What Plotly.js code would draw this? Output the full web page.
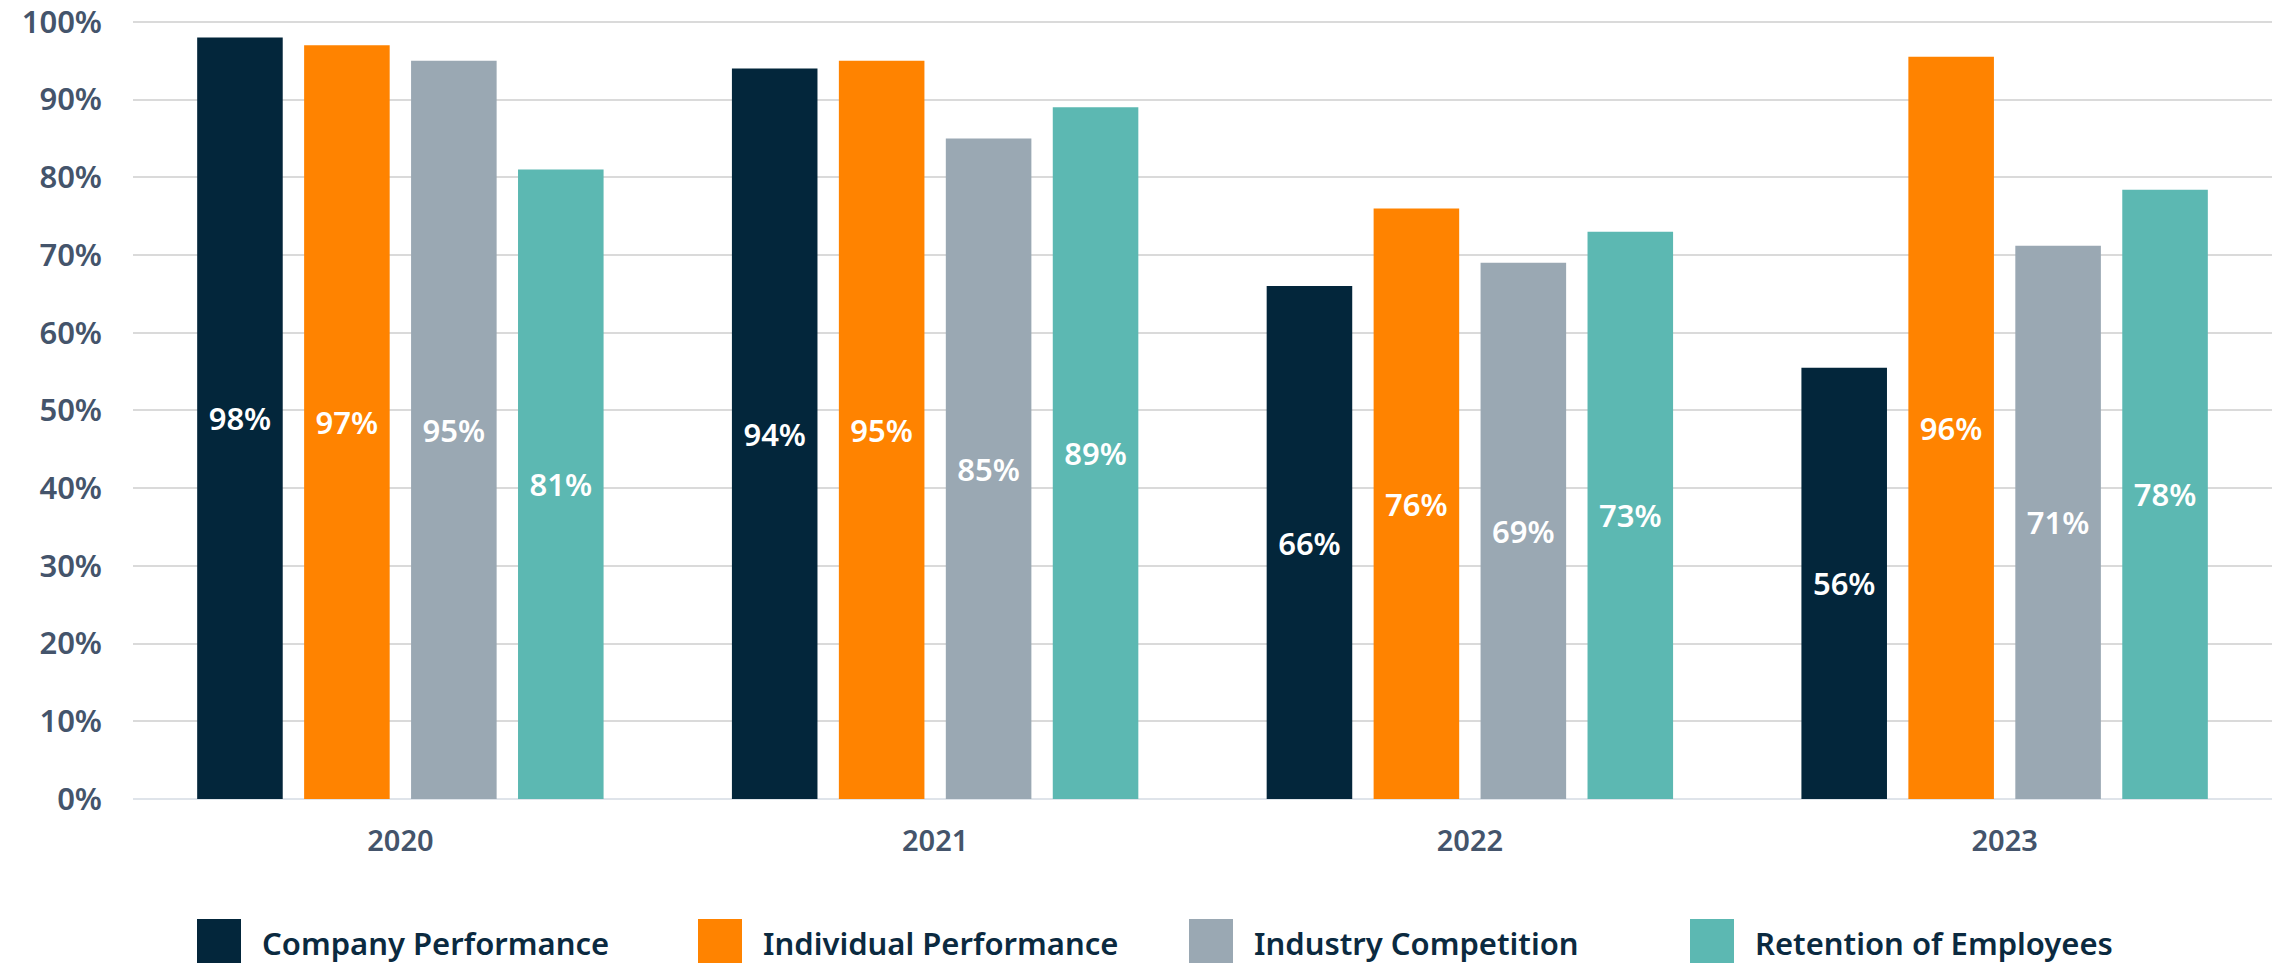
<!DOCTYPE html>
<html>
<head>
<meta charset="utf-8">
<script src="https://cdn.plot.ly/plotly-3.0.1.min.js"></script>
<style>
  html, body { margin: 0; padding: 0; background: #ffffff; }
  #chart { width: 2277px; height: 963px; }
</style>
</head>
<body>
<div id="chart"></div>
<script>
// ---- data ----
const years = ['2020', '2021', '2022', '2023'];
const seriesNames = ['Company Performance', 'Individual Performance', 'Industry Competition', 'Retention of Employees'];
const companyPerformance = [98, 94, 66, 55.5];
const individualPerformance = [97, 95, 76, 95.5];
const industryCompetition = [95, 85, 69, 71.2];
const retentionOfEmployees = [81, 89, 73, 78.4];
const companyLabels = ['98%', '94%', '66%', '56%'];
const individualLabels = ['97%', '95%', '76%', '96%'];
const industryLabels = ['95%', '85%', '69%', '71%'];
const retentionLabels = ['81%', '89%', '73%', '78%'];
const yTickVals = [0, 10, 20, 30, 40, 50, 60, 70, 80, 90, 100];
const yTickText = ['0%', '10%', '20%', '30%', '40%', '50%', '60%', '70%', '80%', '90%', '100%'];

// ---- styling ----
const colors = ['#03263b', '#ff8300', '#9aa8b3', '#5cb8b2'];
const FONT = '"Noto Sans", "DejaVu Sans", sans-serif';
const W = 2277, H = 963;
const M = { l: 133, r: 5, t: 18, b: 164 };
const PW = W - M.l - M.r, PH = H - M.t - M.b;
const px2x = p => (p - M.l) / PW;
const px2y = p => (H - M.b - p) / PH;

const values = [companyPerformance, individualPerformance, industryCompetition, retentionOfEmployees];
const labels = [companyLabels, individualLabels, industryLabels, retentionLabels];

const traces = seriesNames.map((name, i) => ({
  type: 'bar',
  name: name,
  x: years,
  y: values[i],
  text: labels[i],
  textposition: 'inside',
  insidetextanchor: 'middle',
  textangle: 0,
  constraintext: 'none',
  textfont: { family: FONT, size: 31, color: '#ffffff', weight: 600 },
  marker: { color: colors[i], line: { width: 0 } },
  hoverinfo: 'x+y+name',
  showlegend: false
}));

// custom legend (swatches + labels)
const legendSwatchLeft = [197, 698, 1189, 1690];
const shapes = [];
const annotations = [];
seriesNames.forEach((name, i) => {
  shapes.push({
    type: 'rect', xref: 'paper', yref: 'paper',
    x0: px2x(legendSwatchLeft[i]), x1: px2x(legendSwatchLeft[i] + 44),
    y0: px2y(919), y1: px2y(970),
    fillcolor: colors[i], line: { width: 0 }, layer: 'above'
  });
  annotations.push({
    xref: 'paper', yref: 'paper',
    x: px2x(legendSwatchLeft[i] + 63), y: px2y(943),
    xanchor: 'left', yanchor: 'middle',
    text: name, showarrow: false,
    font: { family: FONT, size: 31, color: '#0b2a40', weight: 600 }
  });
});

const layout = {
  width: W, height: H,
  margin: M,
  paper_bgcolor: '#ffffff',
  plot_bgcolor: '#ffffff',
  barmode: 'group',
  bargap: 0.2,
  bargroupgap: 0.2,
  showlegend: false,
  xaxis: {
    type: 'category',
    showgrid: false,
    showline: false,
    zeroline: false,
    ticks: '',
    ticklabelstandoff: 22,
    tickfont: { family: FONT, size: 29, color: '#44546b', weight: 600 }
  },
  yaxis: {
    range: [0, 100.5],
    tickmode: 'array',
    tickvals: yTickVals,
    ticktext: yTickText,
    ticklabeloverflow: 'allow',
    showgrid: true,
    gridcolor: '#dadada',
    gridwidth: 2,
    zeroline: true,
    zerolinecolor: '#dfe4ea',
    zerolinewidth: 2,
    showline: false,
    ticks: '',
    ticklabelstandoff: 30,
    tickfont: { family: FONT, size: 31, color: '#44546b', weight: 600 }
  },
  shapes: shapes,
  annotations: annotations
};

Plotly.newPlot('chart', traces, layout, { displayModeBar: false, staticPlot: true });
</script>
</body>
</html>
